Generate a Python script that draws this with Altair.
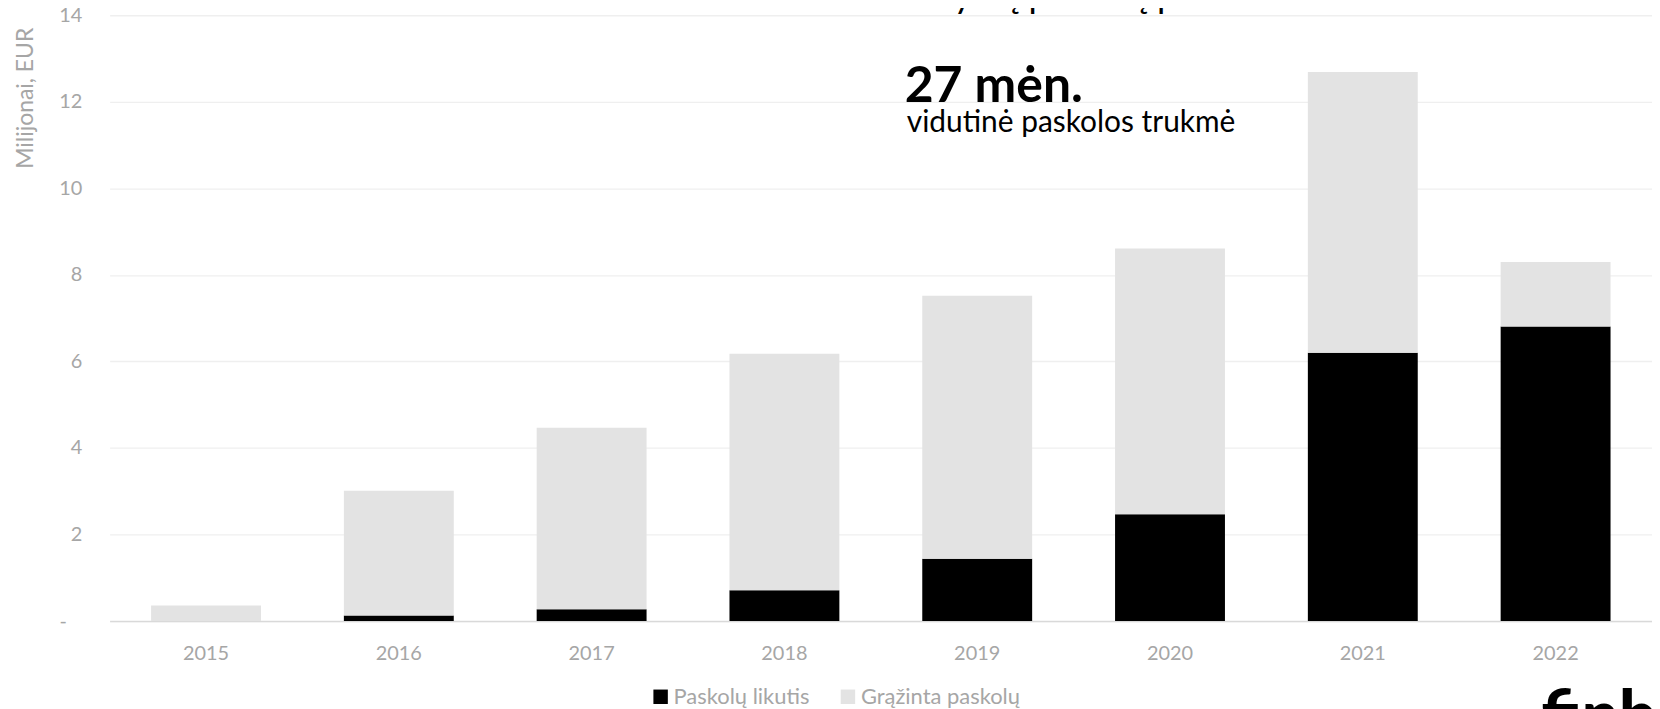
import altair as alt
import pandas as pd

# ---- data ----
years = ["2015", "2016", "2017", "2018", "2019", "2020", "2021", "2022"]
likutis = [0.0, 0.13, 0.27, 0.71, 1.44, 2.47, 6.20, 6.81]      # Paskolų likutis (black)
grazinta = [0.36, 2.88, 4.20, 5.47, 6.08, 6.14, 6.49, 1.49]    # Grąžinta paskolų (light gray)
series = ["Paskolų likutis", "Grąžinta paskolų"]
series_colors = ["#000000", "#e3e3e3"]
y_ticks = [0, 2, 4, 6, 8, 10, 12, 14]

headline = "aktyvių paskolų portfelis 2022.06.30"
big_number = "27 mėn."
big_caption = "vidutinė paskolos trukmė"
logo = "finbee"

rows = []
for i, yr in enumerate(years):
    rows.append({"year": yr, "series": series[0], "value": likutis[i], "rank": 0})
    rows.append({"year": yr, "series": series[1], "value": grazinta[i], "rank": 1})
df = pd.DataFrame(rows)

FONT = "Lato"
GRAY = "#a6a6a6"
# non-breaking spaces followed by a zero-width space so the padding is not trimmed
PAD0 = "\u00a0" * 3 + "\u200b"

bars = alt.Chart(df).mark_bar().encode(
    x=alt.X(
        "year:N",
        sort=years,
        scale=alt.Scale(paddingInner=0.43, paddingOuter=0.215),
        axis=alt.Axis(
            title=None, labelAngle=0, labelFont=FONT, labelFontSize=20,
            labelColor=GRAY, labelPadding=23, ticks=False, grid=False,
            domainColor="#d9d9d9", domainWidth=1.5,
        ),
    ),
    y=alt.Y(
        "value:Q",
        stack="zero",
        scale=alt.Scale(domain=[0, 14.14], nice=False, zero=True),
        axis=alt.Axis(
            values=y_ticks,
            title="Milijonai, EUR",
            titleFont=FONT, titleFontSize=23, titleFontWeight="normal",
            titleColor=GRAY, titleAngle=270, titleAlign="right",
            titleBaseline="alphabetic", titleX=-77, titleY=18,
            labelFont=FONT, labelFontSize=20, labelColor=GRAY,
            labelPadding=28, ticks=False, domain=False,
            grid=True, gridColor="#efefef", gridWidth=1.3,
            labelExpr=f"datum.value == 0 ? '-{PAD0}' : datum.label",
        ),
    ),
    color=alt.Color(
        "series:N",
        scale=alt.Scale(domain=series, range=series_colors),
        legend=alt.Legend(
            title=None, orient="none", legendX=542, legendY=679,
            direction="horizontal", symbolType="square", symbolSize=210,
            symbolStrokeWidth=0, labelFont=FONT, labelFontSize=22,
            labelColor=GRAY, labelOffset=2, columnPadding=27,
        ),
    ),
    order=alt.Order("rank:Q", sort="ascending"),
)

def label(text, x, y, size, weight="normal", color="#000000"):
    return alt.Chart(pd.DataFrame({"t": [text]})).mark_text(
        align="left", baseline="alphabetic", font=FONT, fontSize=size,
        fontWeight=weight, color=color,
    ).encode(text="t:N", x=alt.value(x), y=alt.value(y))

chart = alt.layer(
    bars,
    label(headline, 798, -1, 36),
    label(big_number, 798, 93, 50, "bold"),
    label(big_caption, 800, 123, 30),
    label(logo, 1437, 731, 66, 900),
).properties(
    width=1548,
    height=614,
    autosize=alt.AutoSizeParams(type="none"),
    padding={"left": 102, "right": 0, "top": 0, "bottom": 87},
).configure_view(stroke=None)

chart.save("out.html", embed_options={"renderer": "svg", "actions": False})
